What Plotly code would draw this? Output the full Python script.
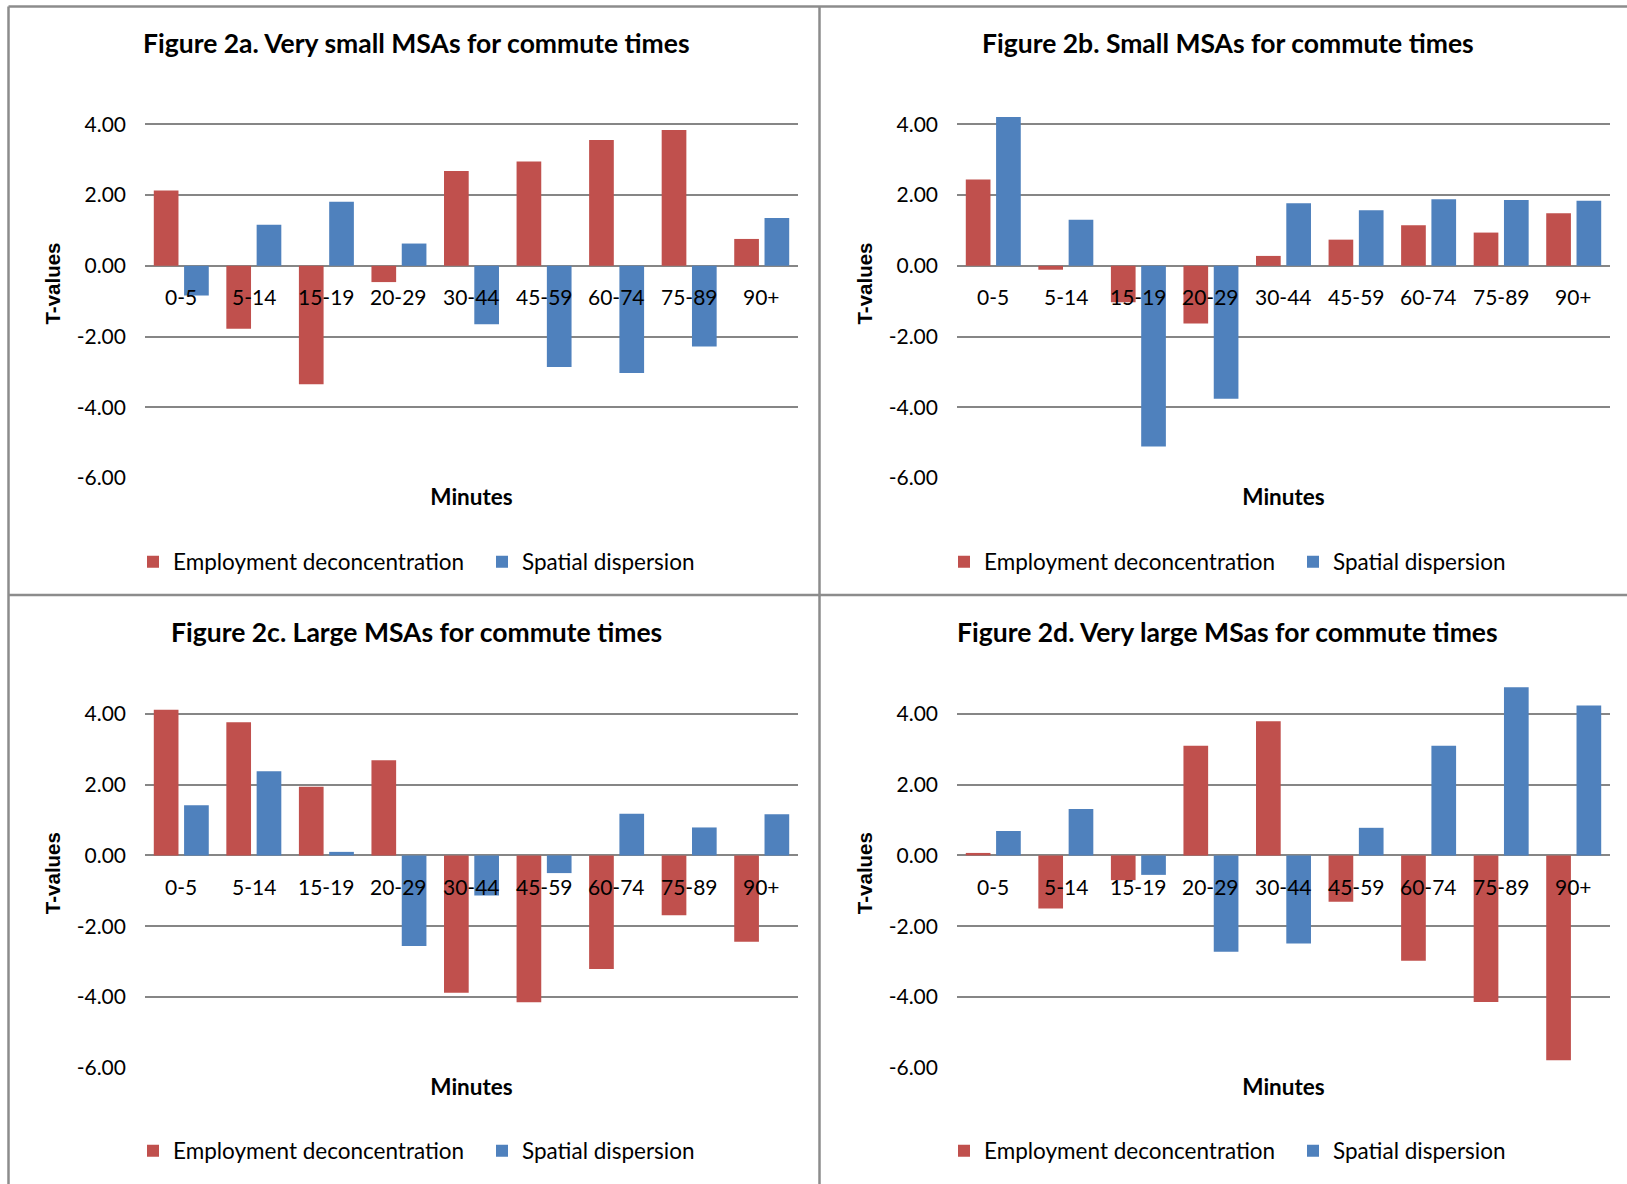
import plotly.graph_objects as go

categories = ["0-5", "5-14", "15-19", "20-29", "30-44", "45-59", "60-74", "75-89", "90+"]

titles = [
    "Figure 2a. Very small MSAs for commute times",
    "Figure 2b. Small MSAs for commute times",
    "Figure 2c. Large MSAs for commute times",
    "Figure 2d. Very large MSas for commute times",
]

emp_a = [2.13, -1.78, -3.35, -0.46, 2.68, 2.95, 3.56, 3.84, 0.76]
spa_a = [-0.84, 1.16, 1.81, 0.63, -1.65, -2.86, -3.03, -2.28, 1.35]

emp_b = [2.44, -0.11, -1.03, -1.63, 0.28, 0.74, 1.15, 0.94, 1.49]
spa_b = [4.21, 1.30, -5.11, -3.76, 1.77, 1.57, 1.88, 1.86, 1.84]

emp_c = [4.12, 3.76, 1.94, 2.69, -3.88, -4.15, -3.21, -1.69, -2.44]
spa_c = [1.42, 2.38, 0.10, -2.56, -1.13, -0.50, 1.18, 0.79, 1.16]

emp_d = [0.07, -1.50, -0.70, 3.10, 3.79, -1.31, -2.98, -4.14, -5.79]
spa_d = [0.69, 1.31, -0.55, -2.72, -2.49, 0.78, 3.10, 4.75, 4.24]

y_ticks = [-6, -4, -2, 0, 2, 4]
y_ticktext = ["%.2f" % v for v in y_ticks]

series_names = ["Employment deconcentration", "Spatial dispersion"]
RED = "#C0504D"
BLUE = "#4F81BD"
GRID = "#868686"
FONT = "Lato"

W, H = 1627, 1184

panels = [
    (emp_a, spa_a),
    (emp_b, spa_b),
    (emp_c, spa_c),
    (emp_d, spa_d),
]

# layout geometry (pixels)
x_doms_px = [(145, 798), (957, 1610), (145, 798), (957, 1610)]
y_doms_px = [(89, 478), (89, 478), (678.5, 1067.7), (678.5, 1067.7)]
title_pos = [(416, 42.5), (1228, 42.5), (416, 632), (1227, 632)]
legend_pos = [(133, 562), (944, 562), (133, 1151), (944, 1151)]

fig = go.Figure()

for i, (emp, spa) in enumerate(panels):
    k = "" if i == 0 else str(i + 1)
    leg = "legend" if i == 0 else "legend" + str(i + 1)
    fig.add_trace(go.Bar(x=categories, y=emp, name=series_names[0], marker_color=RED,
                         marker_line_width=0, xaxis="x" + k, yaxis="y" + k, legend=leg))
    fig.add_trace(go.Bar(x=categories, y=spa, name=series_names[1], marker_color=BLUE,
                         marker_line_width=0, xaxis="x" + k, yaxis="y" + k, legend=leg))

layout = dict(
    width=W, height=H,
    margin=dict(l=0, r=0, t=0, b=0, autoexpand=False),
    paper_bgcolor="white", plot_bgcolor="white",
    barmode="group", bargap=0.165, bargroupgap=0.185,
    font=dict(family=FONT, size=21, color="black"),
    annotations=[], shapes=[],
)

for i in range(4):
    k = "" if i == 0 else str(i + 1)
    x0, x1 = x_doms_px[i]
    yt, yb = y_doms_px[i]
    layout["xaxis" + k] = dict(
        domain=[x0 / W, x1 / W], anchor="y" + k, showticklabels=False,
        showgrid=False, zeroline=False, showline=False, ticks="",
        title=dict(text="<b>Minutes</b>", font=dict(size=22.5, family=FONT), standoff=11),
    )
    layout["yaxis" + k] = dict(
        domain=[1 - yb / H, 1 - yt / H], anchor="x" + k, range=[-6, 5],
        tickvals=y_ticks, ticktext=y_ticktext, showgrid=True, gridcolor=GRID, gridwidth=1.5,
        zeroline=True, zerolinecolor=GRID, zerolinewidth=1.5, showline=False,
        ticklabelstandoff=18, tickfont=dict(size=21, family=FONT),
        title=dict(text="<b>T-values</b>", font=dict(size=20.5, family="Liberation Sans"), standoff=10),
    )
    lx, ly = legend_pos[i]
    layout["legend" if i == 0 else "legend" + str(i + 1)] = dict(
        orientation="h", x=lx / W, y=1 - ly / H, xanchor="left", yanchor="middle",
        entrywidth=304, entrywidthmode="pixels",
        font=dict(size=22.5, family=FONT), bgcolor="rgba(0,0,0,0)", itemclick=False,
    )
    tx, ty = title_pos[i]
    layout["annotations"].append(dict(
        text="<b>" + titles[i] + "</b>", x=tx / W, y=1 - ty / H, xref="paper", yref="paper",
        xanchor="center", yanchor="middle", showarrow=False, font=dict(size=26.5, family=FONT),
    ))
    for c in categories:
        layout["annotations"].append(dict(
            text=c, x=c, y=0, xref="x" + k, yref="y" + k, yshift=-31,
            xanchor="center", yanchor="middle", showarrow=False, font=dict(size=21, family=FONT),
        ))

# panel borders
BORDER = "#8c8c8c"
bw = 2.5
layout["shapes"] = [
    dict(type="line", xref="paper", yref="paper", x0=8.5 / W, x1=8.5 / W, y0=1 - 6.5 / H, y1=0,
         line=dict(color=BORDER, width=bw)),
    dict(type="line", xref="paper", yref="paper", x0=819.5 / W, x1=819.5 / W, y0=1 - 6.5 / H, y1=0,
         line=dict(color=BORDER, width=bw)),
    dict(type="line", xref="paper", yref="paper", x0=8.5 / W, x1=1, y0=1 - 6.5 / H, y1=1 - 6.5 / H,
         line=dict(color=BORDER, width=bw)),
    dict(type="line", xref="paper", yref="paper", x0=8.5 / W, x1=1, y0=1 - 595 / H, y1=1 - 595 / H,
         line=dict(color=BORDER, width=bw)),
]

fig.update_layout(**layout)
fig.write_html("out.html")
